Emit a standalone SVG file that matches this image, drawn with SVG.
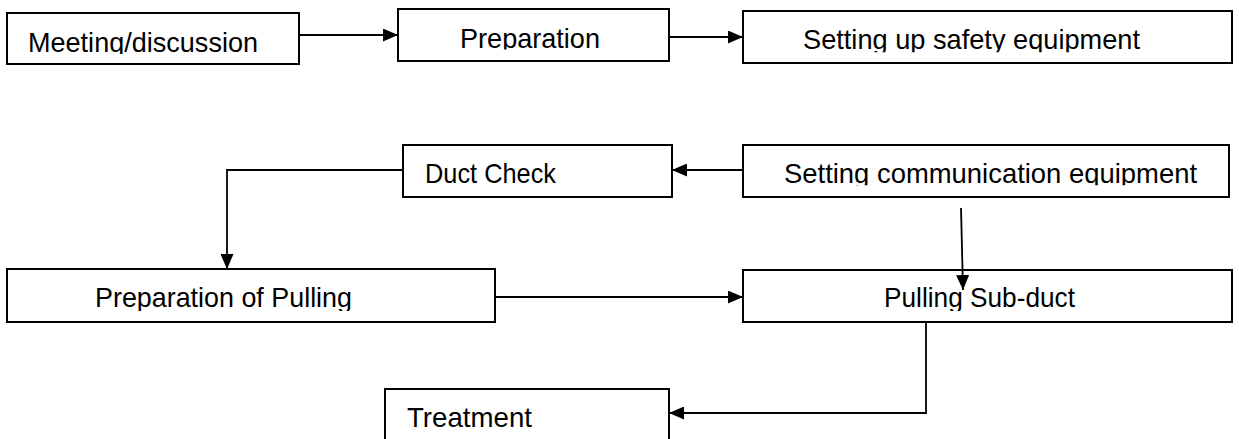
<svg xmlns="http://www.w3.org/2000/svg" width="1239" height="439" viewBox="0 0 1239 439">
<style>
.box{fill:#fff;stroke:#000;stroke-width:2}
.lbl{font-family:"Liberation Sans",Arial,sans-serif;font-size:28px;fill:#000}
.con{fill:none;stroke:#000;stroke-width:1.8}
</style>
<defs>
<marker id="ah" markerUnits="userSpaceOnUse" markerWidth="15" markerHeight="13" refX="15" refY="6.5" orient="auto">
<path d="M0,0 L15,6.5 L0,13 Z" fill="#000"/>
</marker>
<clipPath id="k1" clipPathUnits="userSpaceOnUse"><rect x="0" y="0" width="1239" height="54"/></clipPath>
<clipPath id="k2" clipPathUnits="userSpaceOnUse"><rect x="0" y="0" width="1239" height="49.5"/></clipPath>
<clipPath id="k3" clipPathUnits="userSpaceOnUse"><rect x="0" y="0" width="1239" height="52.3"/></clipPath>
<clipPath id="k5" clipPathUnits="userSpaceOnUse"><rect x="0" y="100" width="1239" height="85.3"/></clipPath>
<clipPath id="k6" clipPathUnits="userSpaceOnUse"><rect x="0" y="250" width="1239" height="61"/></clipPath>
</defs>
<g id="connectors">
<line class="con" x1="299" y1="35" x2="398" y2="35" marker-end="url(#ah)"/>
<line class="con" x1="669" y1="37" x2="743" y2="37" marker-end="url(#ah)"/>
<line class="con" x1="743" y1="170" x2="672" y2="170" marker-end="url(#ah)"/>
<polyline class="con" points="403,170 227,170 227,269" marker-end="url(#ah)"/>
<line class="con" x1="495" y1="297" x2="743" y2="297" marker-end="url(#ah)"/>
<polyline class="con" points="926,322 926,413 669,413" marker-end="url(#ah)"/>
</g>
<g id="n1"><rect class="box" x="7" y="13" width="292" height="51"/><text class="lbl" x="28" y="52" textLength="230" lengthAdjust="spacingAndGlyphs" clip-path="url(#k1)">Meeting/discussion</text></g>
<g id="n2"><rect class="box" x="398" y="9" width="271" height="52"/><text class="lbl" x="460" y="47.5" textLength="140" lengthAdjust="spacingAndGlyphs" clip-path="url(#k2)">Preparation</text></g>
<g id="n3"><rect class="box" x="743" y="11" width="489" height="52"/><text class="lbl" x="803" y="49" textLength="337" lengthAdjust="spacingAndGlyphs" clip-path="url(#k3)">Setting up safety equipment</text></g>
<g id="n4"><rect class="box" x="403" y="145" width="269" height="52"/><text class="lbl" x="425" y="183" textLength="131" lengthAdjust="spacingAndGlyphs">Duct Check</text></g>
<g id="n5"><rect class="box" x="743" y="145" width="486" height="52"/><text class="lbl" x="784" y="182.7" textLength="413" lengthAdjust="spacingAndGlyphs" clip-path="url(#k5)">Setting communication equipment</text></g>
<g id="n6"><rect class="box" x="7" y="269" width="488" height="53"/><text class="lbl" x="95" y="307.3" textLength="257" lengthAdjust="spacingAndGlyphs" clip-path="url(#k6)">Preparation of Pulling</text></g>
<g id="n7"><rect class="box" x="743" y="270" width="489" height="52"/><text class="lbl" x="884" y="307.3" textLength="191" lengthAdjust="spacingAndGlyphs" clip-path="url(#k6)">Pulling Sub-duct</text></g>
<g id="n8"><rect class="box" x="385" y="389" width="284" height="60"/><text class="lbl" x="407" y="427" textLength="125" lengthAdjust="spacingAndGlyphs">Treatment</text></g>
<g id="connectors-over">
<line class="con" x1="961" y1="208" x2="963" y2="290" marker-end="url(#ah)"/>
</g>
</svg>
